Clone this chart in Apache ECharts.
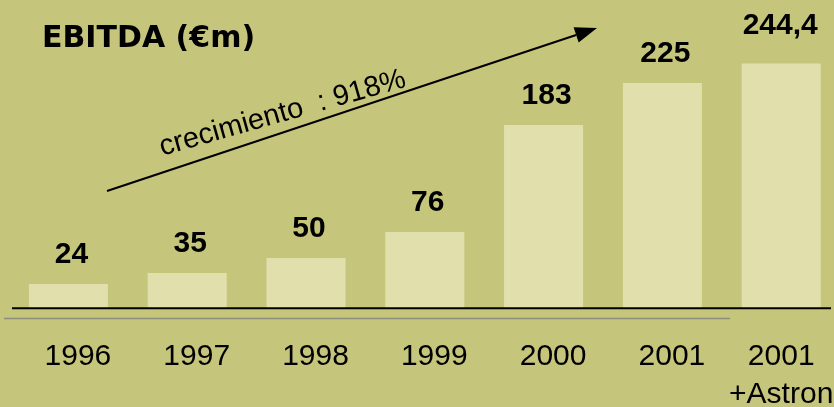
<!DOCTYPE html>
<html>
<head>
<meta charset="utf-8">
<script src="https://cdn.jsdelivr.net/npm/echarts@6/dist/echarts.min.js"></script>
<style>
html,body{margin:0;padding:0;background:#c6c57c;}
#chart{width:834px;height:407px;}
</style>
</head>
<body>
<div id="chart"></div>
<script>
const categories = ['1996', '1997', '1998', '1999', '2000', '2001', '2001\n+Astron'];
const ebitda = [24, 35, 50, 76, 183, 225, 244.4];
const valueLabels = ['24', '35', '50', '76', '183', '225', '244,4'];
const titleText = 'EBITDA (€m)';
const growthText = 'crecimiento  : 918%';

const chart = echarts.init(document.getElementById('chart'), null, {renderer: 'canvas'});
const arial = '"Liberation Sans", Arial, sans-serif';

const lastIdx = categories.length - 1;
const catData = categories.map((c, i) => i === lastIdx ? {value: c} : {value: c, textStyle: {padding: [0, 0, 0, 19]}});
const barData = ebitda.map((v, i) => ({
  value: v,
  label: i === lastIdx ? {distance: 23, offset: [-1, 0]} : {distance: 14, offset: [3, 0]}
}));

// arrow geometry (annotation)
const x0 = 107, y0 = 191, tx = 597, ty = 28;
const dx = tx - x0, dy = ty - y0, len = Math.hypot(dx, dy);
const ux = dx / len, uy = dy / len, nx = -uy, ny = ux;
const headL = 22, headW = 8;
const bx = tx - ux * headL, by = ty - uy * headL;

chart.setOption({
  backgroundColor: '#c6c57c',
  animation: false,
  grid: {left: 9, width: 831.6, top: 8, bottom: 99, containLabel: false, outerBoundsMode: 'none'},
  xAxis: {
    type: 'category',
    data: catData,
    axisLine: {show: false},
    axisTick: {show: false},
    axisLabel: {
      interval: 0,
      margin: 30,
      color: '#000',
      fontFamily: arial,
      fontSize: 30,
      lineHeight: 38
    }
  },
  yAxis: {type: 'value', min: 0, max: 300, show: false, splitLine: {show: false}},
  series: [{
    type: 'bar',
    data: barData,
    barWidth: 79,
    itemStyle: {color: '#e1e0ad'},
    label: {
      show: true,
      position: 'top',
      color: '#000',
      fontFamily: arial,
      fontWeight: 'bold',
      fontSize: 30,
      formatter: p => valueLabels[p.dataIndex]
    },
    z: 2
  }],
  graphic: [
    {type: 'line', z: 10, shape: {x1: 12, y1: 308.3, x2: 831, y2: 308.3}, style: {stroke: '#000', lineWidth: 2}},
    {type: 'line', z: 10, shape: {x1: 4, y1: 318.5, x2: 730, y2: 318.5}, style: {stroke: '#8d8d7e', lineWidth: 1.5}},
    {type: 'line', z: 10, shape: {x1: x0, y1: y0, x2: bx, y2: by}, style: {stroke: '#000', lineWidth: 2}},
    {type: 'polygon', z: 10, shape: {points: [[tx, ty], [bx + nx * headW, by + ny * headW], [bx - nx * headW, by - ny * headW]]}, style: {fill: '#000'}},
    {type: 'text', z: 10, x: 42, y: 39,
      style: {text: titleText, fill: '#000', font: 'bold 30px "DejaVu Sans", Verdana, sans-serif', textAlign: 'left', textVerticalAlign: 'middle'}},
    {type: 'text', z: 10, x: 164, y: 162, rotation: 15.8 * Math.PI / 180,
      style: {text: growthText, fill: '#000', font: '29px ' + arial, textAlign: 'left', textVerticalAlign: 'bottom'}}
  ]
});
</script>
</body>
</html>
